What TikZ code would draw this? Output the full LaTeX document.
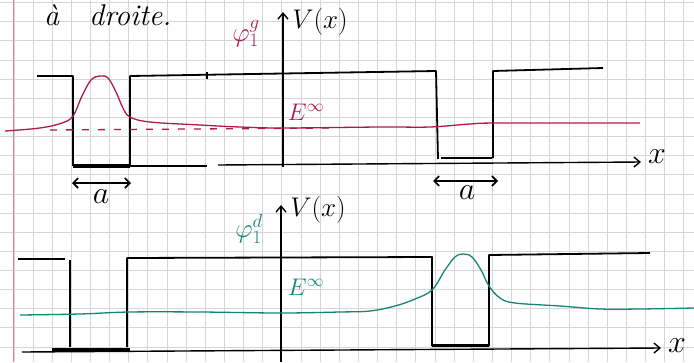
\RequirePackage{fix-cm}
\documentclass[tikz,border=0pt]{standalone}
\usetikzlibrary{arrows.meta}
\definecolor{wfred}{RGB}{175,25,80}
\definecolor{wfgreen}{RGB}{20,135,115}
\definecolor{gridc}{RGB}{214,214,218}
\definecolor{margc}{RGB}{228,125,155}
\begin{document}
\begin{tikzpicture}[x=1pt,y=-1pt,
  pot/.style={line width=1.8pt, black, line join=round},
  wellbot/.style={line width=3.2pt, black},
  axisline/.style={line width=1.4pt, black, -{Straight Barb[length=6pt,width=10pt,line width=1.4pt]}},
  dimarrow/.style={line width=1.6pt, black, {Straight Barb[length=5pt,width=10pt,line width=1.6pt]}-{Straight Barb[length=5pt,width=10pt,line width=1.6pt]}},
  wfr/.style={wfred, line width=1.3pt},
  wfg/.style={wfgreen, line width=1.3pt},
  lbl/.style={inner sep=0pt, font=\fontsize{27}{29}\selectfont},
  biglbl/.style={inner sep=0pt, font=\fontsize{32}{34}\selectfont},
  smalllbl/.style={inner sep=0pt, font=\fontsize{24}{26}\selectfont}]
\useasboundingbox (0,0) rectangle (694,362);
\fill[white] (0,0) rectangle (694,362);
% paper grid
\foreach \i in {0,...,35} \draw[gridc, line width=0.8pt] ({13.9+\i*19.14},0) -- ({13.9+\i*19.14},362);
\foreach \j in {0,...,18} \draw[gridc, line width=0.8pt] (0,{2.5+\j*19.14}) -- (694,{2.5+\j*19.14});
\draw[margc, line width=1pt] (13,0) -- (13,362);
% header text
\node[inner sep=0pt, font=\fontsize{30}{32}\selectfont, anchor=base west] (hdr) at (44,25) {\itshape à\hspace{30pt}droite.};

% ================= top diagram =================
\coordinate (t0) at (283,167);
\coordinate (t1) at (283,12);
\draw[axisline] (t0) -- (t1);
\coordinate (xa0) at (73,166);
\coordinate (xa1) at (207,166);
\coordinate (xa2) at (218,165);
\coordinate (xa3) at (641,162);
\draw[pot] (xa0) -- (xa1);
\draw[axisline] (xa2) -- (xa3);
\node[biglbl, anchor=base] (xt) at (657,163) {$x$};
% potential
\draw[pot] (37,76) -- (73,76) -- (73,166);
\draw[wellbot] (73,166) -- (130,166);
\draw[pot] (130,166) -- (130,76) -- (436,71) -- (438,159);
\draw[pot] (207,72) -- (207,79);
\draw[pot] (441,158) -- (492,158);
\draw[pot] (493,158) -- (493,71) -- (603,68);
% wavefunction
\draw[wfr, dashed, dash pattern=on 7pt off 9pt] (50,130) -- (335,128);
\draw[wfr] plot[smooth, tension=0.6] coordinates {(5,131) (40,128) (62,123) (73,116) (82,96) (91,80) (100,76) (108,78) (116,92) (123,108) (130,117) (150,122) (200,125) (240,127) (283,128) (380,127) (430,127) (470,124) (500,123) (640,123)};
\node[smalllbl, text=wfred] (Et) at (306,112) {$E^{\infty}$};
\node[lbl, text=wfred] (phig) at (246,34) {$\varphi_1^{g}$};
\node[lbl] (Vt) at (320,22) {$V(x)$};
% widths a
\coordinate (da0) at (72,183);
\coordinate (da1) at (131,183);
\draw[dimarrow] (da0) -- (da1);
\node[biglbl] (at1) at (101,197) {$a$};
\coordinate (db0) at (433,181);
\coordinate (db1) at (498,181);
\draw[dimarrow] (db0) -- (db1);
\node[biglbl] (at2) at (467,193) {$a$};

% ================= bottom diagram =================
\coordinate (b0) at (281,362);
\coordinate (b1) at (281,205);
\draw[axisline] (b0) -- (b1);
\coordinate (xb0) at (22,352);
\coordinate (xb1) at (661,348);
\draw[axisline] (xb0) -- (xb1);
\node[biglbl, anchor=base] (xb) at (677,352) {$x$};
% potential
\draw[pot] (18,259) -- (65,259);
\draw[pot] (70,260) -- (70,347);
\draw[wellbot] (52,350) -- (130,350);
\draw[pot] (127,347) -- (127,258) -- (432,257) -- (432,346);
\draw[wellbot] (432,345.5) -- (489,345.5);
\draw[pot] (489,346) -- (489,255) -- (650,253);
% wavefunction
\draw[wfg] plot[smooth, tension=0.6] coordinates {(20,315) (80,314) (130,312) (200,312) (280,313) (340,312) (370,311) (395,306) (415,299) (432,290) (445,270) (455,257) (463,254) (472,257) (481,270) (489,286) (500,298) (515,303) (560,306) (600,309) (640,309) (694,308)};
\node[smalllbl, text=wfgreen] (Eb) at (306,287) {$E^{\infty}$};
\node[lbl, text=wfgreen] (phid) at (249,229) {$\varphi_1^{d}$};
\node[lbl] (Vb) at (318,210) {$V(x)$};
\end{tikzpicture}
\end{document}
